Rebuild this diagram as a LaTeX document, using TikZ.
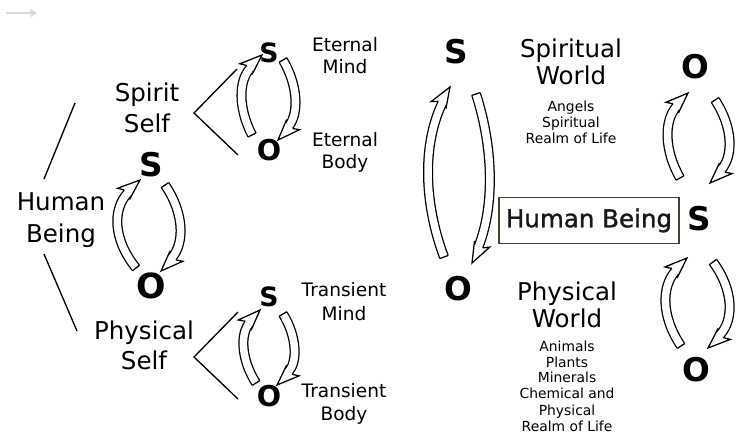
\documentclass[tikz,border=0pt]{standalone}
\usepackage{fontspec}
\setmainfont{DejaVu Sans}
\newfontfamily\boxfont[FakeBold=1.2]{DejaVu Sans}
\usetikzlibrary{calc,arrows.meta}
\def\arHL{13.5pt}
\def\arHW{3.3pt}
\def\arWI{4.3pt}
\def\arWO{8pt}
\tikzset{
  txtL/.style={font=\fontsize{18.4}{22}\selectfont, inner sep=0pt, anchor=base},
  txtM/.style={font=\fontsize{13.9}{16}\selectfont, inner sep=0pt, anchor=base},
  txtS/.style={font=\fontsize{10.4}{12}\selectfont, inner sep=0pt, anchor=base},
  letL/.style={font=\fontsize{24.5}{26}\selectfont\bfseries, inner sep=0pt},
  letS/.style={font=\fontsize{20}{22}\selectfont\bfseries, inner sep=0pt},
  link/.style={line width=1pt},
  arrshaft/.style={line width=0.95pt, double=white, double distance=5.65pt},
  arredge/.style={line width=0.95pt, line join=miter},
  arrcap/.style={line width=0.95pt, line cap=square},
}
% tail x, tail y, tip x, tip y, bulge x
\newcommand\barr[5]{%
  \path ({#1},{#2}) coordinate (bA)
        ({(8*#5-#1-#3)/6},{#2+0.33*(#4-#2)}) coordinate (bP)
        ({(8*#5-#1-#3)/6},{#4-0.33*(#4-#2)}) coordinate (bQ)
        ({#3},{#4}) coordinate (bT);
  \path ($(bT)!\arHL!(bQ)$) coordinate (bC);
  \path ($(bC)!2.5pt!(bQ)$) coordinate (bCb);
  \path ($(bC)!\arHW!90:(bQ)$) coordinate (be1)
        ($(bC)!\arHW!-90:(bQ)$) coordinate (be2)
        ($(bCb)!\arWI!90:(bQ)$) coordinate (bb1)
        ($(bCb)!\arWO!-90:(bQ)$) coordinate (bb2);
  \draw[arrshaft] (bA) .. controls (bP) and (bQ) .. (bC);
  \draw[arrcap] ($(bA)!\arHW!90:(bP)$) -- ($(bA)!\arHW!-90:(bP)$);
  \fill[white] (be1) -- (bb1) -- (bT) -- (bb2) -- (be2) -- cycle;
  \draw[arredge] (be1) -- (bb1) -- (bT) -- (bb2) -- (be2);
}
\begin{document}
\begin{tikzpicture}[x=0.75pt,y=-0.75pt]
\useasboundingbox (0,0) rectangle (737,443);
\fill[white] (0,0) rectangle (737,443);

% faint arrow top left
\coordinate (fa1) at (6,13);
\coordinate (fa2) at (37,13);
\draw[black!14, line width=1.2pt, -{Triangle[length=5pt,width=6pt]}] (fa1) -- (fa2);

% left texts
\node[txtL] (hum1) at (61,210) {Human};
\node[txtL] (hum2) at (61,242) {Being};
\node[txtL] (spi1) at (147,101) {Spirit};
\node[txtL] (spi2) at (147,132) {Self};
\node[txtL] (phy1) at (144,339) {Physical};
\node[txtL] (phy2) at (144,369) {Self};

\coordinate (l1a) at (44,179);
\coordinate (l1b) at (75,103);
\coordinate (l2a) at (44,254);
\coordinate (l2b) at (77,331);
\draw[link] (l1a) -- (l1b);
\draw[link] (l2a) -- (l2b);

\coordinate (b1u) at (237,69);
\coordinate (b1v) at (194,113);
\coordinate (b1d) at (238,155);
\coordinate (b2u) at (238,312);
\coordinate (b2v) at (194,357);
\coordinate (b2d) at (238,399);
\draw[link] (b1u) -- (b1v) -- (b1d);
\draw[link] (b2u) -- (b2v) -- (b2d);

% left cycle
\node[letL] (lS) at (151,165) {S};
\node[letL, font=\fontsize{26}{28}\selectfont\bfseries] (lO) at (151,286) {O};
\barr{136}{268}{140}{180}{119}
\barr{165}{185}{161}{271}{179}

% spirit cycle
\node[letS] (sS) at (269,53) {S};
\node[letS, font=\fontsize{21.5}{24}\selectfont\bfseries] (sO) at (269,150) {O};
\barr{252}{135}{262}{55}{243}
\barr{283}{60}{278}{140}{294}

% transient cycle
\node[letS] (tS) at (269,297) {S};
\node[letS, font=\fontsize{21.5}{24}\selectfont\bfseries] (tO) at (269,396) {O};
\barr{256}{383}{260}{310}{245}
\barr{283}{314}{277}{385}{293}

\node[txtM] (em1) at (345,51) {Eternal};
\node[txtM] (em2) at (345,73) {Mind};
\node[txtM] (eb1) at (345,146) {Eternal};
\node[txtM] (eb2) at (345,168) {Body};
\node[txtM] (tm1) at (344,296) {Transient};
\node[txtM] (tm2) at (344,320) {Mind};
\node[txtM] (tb1) at (344,397) {Transient};
\node[txtM] (tb2) at (344,420) {Body};

% central cycle
\node[letL] (cS) at (456,52) {S};
\node[letL] (cO) at (458,289) {O};
\barr{444}{257}{450}{87}{429}
\barr{476}{94}{472}{263}{489}

% right texts
\node[txtL] (sw1) at (571,57) {Spiritual};
\node[txtL] (sw2) at (571,84) {World};
\node[txtS] (sw3) at (571,111) {Angels};
\node[txtS] (sw4) at (571,127) {Spiritual};
\node[txtS] (sw5) at (571,143) {Realm of Life};

\node[txtL] (pw1) at (567,300) {Physical};
\node[txtL] (pw2) at (567,327) {World};
\node[txtS] (pw3) at (567,351) {Animals};
\node[txtS] (pw4) at (567,367) {Plants};
\node[txtS] (pw5) at (567,382) {Minerals};
\node[txtS] (pw6) at (567,398) {Chemical and};
\node[txtS] (pw7) at (567,415) {Physical};
\node[txtS] (pw8) at (567,431) {Realm of Life};

\node[draw={rgb,255:red,58;green,70;blue,48}, line width=0.8pt, fill=white,
      minimum width=135pt, minimum height=35pt, inner sep=0pt,
      text={rgb,255:red,25;green,25;blue,25},
      font=\boxfont\fontsize{18.4}{22}\selectfont] (hb) at (589,220.5) {Human Being};

% right cycles
\node[letL] (rO1) at (695,67) {O};
\node[letL] (rS) at (699,219) {S};
\node[letL] (rO2) at (696,370) {O};
\barr{680}{178}{688}{93}{669}
\barr{715}{100}{710}{183}{728}
\barr{681}{346}{687}{258}{667}
\barr{713}{262}{708}{348}{728}
\end{tikzpicture}
\end{document}
